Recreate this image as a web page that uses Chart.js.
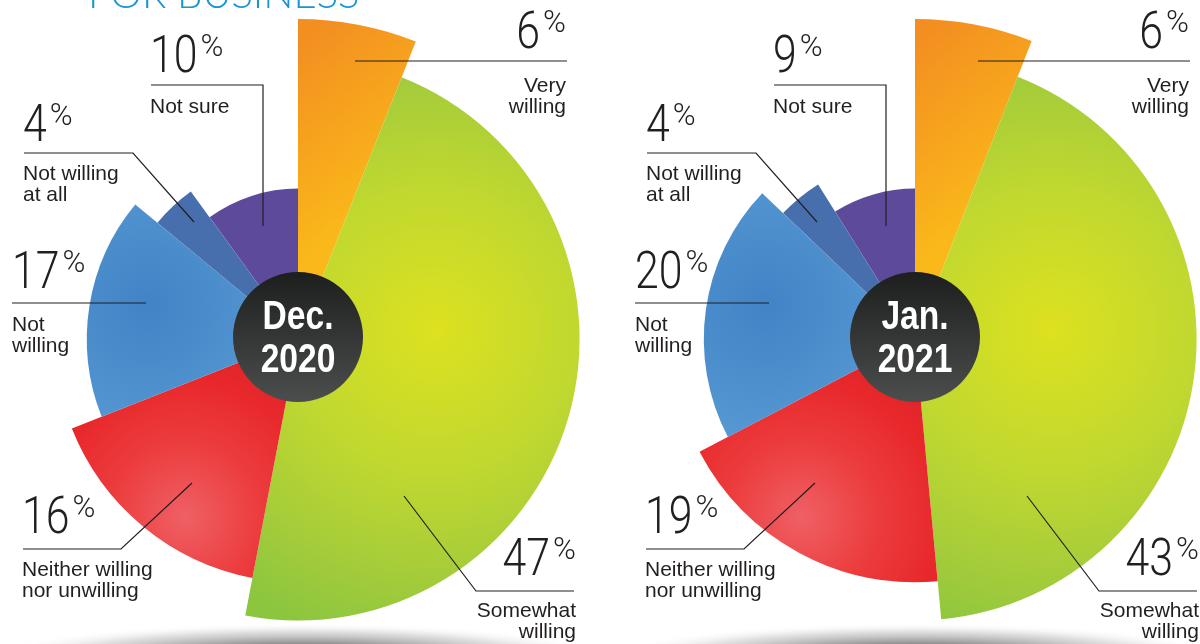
<!DOCTYPE html>
<html>
<head>
<meta charset="utf-8">
<script src="https://cdn.jsdelivr.net/npm/chart.js@4.4.1/dist/chart.umd.min.js"></script>
<style>
  html, body { margin: 0; padding: 0; background: #fff; }
  body { width: 1200px; height: 644px; position: relative; overflow: hidden; }
  canvas { position: absolute; top: 0; }
  #decChart { left: -22px; }
  #janChart { left: 595px; }
</style>
</head>
<body>
<canvas id="decChart" width="640" height="680"></canvas>
<canvas id="janChart" width="640" height="680"></canvas>
<script>
// survey answers, clockwise from 12 o'clock
const categories = ['Very willing', 'Somewhat willing', 'Neither willing nor unwilling', 'Not willing', 'Not willing at all', 'Not sure'];
const categoryLines = [['Very', 'willing'], ['Somewhat', 'willing'], ['Neither willing', 'nor unwilling'], ['Not', 'willing'], ['Not willing', 'at all'], ['Not sure']];
const periodLabels = [['Dec.', '2020'], ['Jan.', '2021']];
const dec2020Share = [6, 47, 16, 17, 4, 10];
const jan2021Share = [6, 43, 19, 20, 4, 9];
// how far each wedge reaches, as a % of the longest one
const wedgeReach = [100, 88, 76, 66, 57, 47];

const INK = '#231f20';
const NUM_FONT = '300 51px Roboto, Lato, "Liberation Sans", sans-serif';
const PCT_FONT = '300 31px Roboto, Lato, "Liberation Sans", sans-serif';
const TEXT_FONT = '21px "Liberation Sans", Arial, sans-serif';
const BADGE_FONT = 'bold 40px "Liberation Sans", Arial, sans-serif';
const NUM_SQUEEZE = 0.84;
const PCT_SQUEEZE = 1;
const BADGE_SQUEEZE = 0.84;

// callout layout, offsets from the pie centre
const calloutSpots = [
  { align: 'right', x: 268, num: -291, text: [-247, -226], line: [[57, -278], [269, -278]] },
  { align: 'right', x: 278, num: 236, text: [278, 299], line: [[106, 157], [178, 252], [276, 252]] },
  { align: 'left', x: -276, num: 194, text: [237, 258], line: [[-275, 210], [-177, 210], [-106, 144]] },
  { align: 'left', x: -286, num: -51, text: [-8, 13], line: [[-286, -36], [-152, -36]] },
  { align: 'left', x: -275, num: -198, text: [-159, -138], line: [[-274, -186], [-165, -186], [-104, -117]] },
  { align: 'left', x: -148, num: -267, text: [-226], line: [[-147, -254], [-35, -254], [-35, -113]] }
];

const wedgeTones = [
  { kind: 'linear', from: [0, -300], to: [110, -160], stops: [[0, '#f38e21'], [1, '#fab81a']] },
  { kind: 'radial', at: [137, -9], r: 320, stops: [[0, '#dde11f'], [0.45, '#c0d830'], [0.8, '#a2cb3b'], [1, '#8cc63f']] },
  { kind: 'radial', at: [-113, 178], r: 250, stops: [[0, '#ef6065'], [0.3, '#ec3c3d'], [0.55, '#e8282b'], [1, '#c71e2a']] },
  { kind: 'radial', at: [-150, -35], r: 175, stops: [[0, '#4183c5'], [1, '#5b9ed6']] },
  { kind: 'flat', color: '#476fad' },
  { kind: 'flat', color: '#5e4a9a' }
];

function wedgeFill(c) {
  const tone = wedgeTones[c.dataIndex];
  const r = c.chart.scales.r;
  if (tone.kind === 'flat' || !r || r.xCenter === undefined) return tone.color || tone.stops[0][1];
  const cx = r.xCenter, cy = r.yCenter;
  const g = tone.kind === 'linear'
    ? c.chart.ctx.createLinearGradient(cx + tone.from[0], cy + tone.from[1], cx + tone.to[0], cy + tone.to[1])
    : c.chart.ctx.createRadialGradient(cx + tone.at[0], cy + tone.at[1], 0, cx + tone.at[0], cy + tone.at[1], tone.r);
  tone.stops.forEach(s => g.addColorStop(s[0], s[1]));
  return g;
}

// fillText squeezed horizontally, left-aligned at x
function squeezed(ctx, txt, x, y, sx) {
  ctx.save();
  ctx.translate(x, y);
  ctx.scale(sx, 1);
  ctx.textAlign = 'left';
  ctx.fillText(txt, 0, 0);
  ctx.restore();
}

function drawShare(ctx, value, x, y, align) {
  const txt = String(value);
  ctx.font = NUM_FONT;
  const w1 = ctx.measureText(txt).width * NUM_SQUEEZE;
  ctx.font = PCT_FONT;
  const w2 = ctx.measureText('%').width * PCT_SQUEEZE;
  const gap = 3;
  const left = align === 'right' ? x - (w1 + gap + w2) : x;
  ctx.font = NUM_FONT;
  squeezed(ctx, txt, left, y, NUM_SQUEEZE);
  ctx.font = PCT_FONT;
  squeezed(ctx, '%', left + w1 + gap, y - 16, PCT_SQUEEZE);
}

function decorPlugin(shares, period, shift, heading) {
  return {
    id: 'decor',
    beforeDatasetsDraw(chart) {
      const ctx = chart.ctx;
      const r = chart.scales.r;
      // soft floor shadow under the pie
      ctx.save();
      ctx.translate(r.xCenter + 2, r.yCenter + 318);
      ctx.scale(1, 0.11);
      const g = ctx.createRadialGradient(0, 0, 0, 0, 0, 310);
      g.addColorStop(0, 'rgba(55,55,55,0.85)');
      g.addColorStop(0.4, 'rgba(75,75,75,0.6)');
      g.addColorStop(0.75, 'rgba(120,120,120,0.22)');
      g.addColorStop(1, 'rgba(255,255,255,0)');
      ctx.fillStyle = g;
      ctx.beginPath();
      ctx.arc(0, 0, 310, 0, Math.PI * 2);
      ctx.fill();
      ctx.restore();
    },
    afterDatasetsDraw(chart) {
      const ctx = chart.ctx;
      const r = chart.scales.r;
      const cx = r.xCenter, cy = r.yCenter;
      ctx.save();
      ctx.textBaseline = 'alphabetic';

      // dark badge in the middle
      const bg = ctx.createLinearGradient(0, cy - 67, 0, cy + 63);
      bg.addColorStop(0, '#1d1e1e');
      bg.addColorStop(1, '#4c4d4d');
      ctx.fillStyle = bg;
      ctx.beginPath();
      ctx.arc(cx, cy - 2, 65, 0, Math.PI * 2);
      ctx.fill();
      ctx.fillStyle = '#ffffff';
      ctx.font = BADGE_FONT;
      period.forEach((ln, k) => {
        const w = ctx.measureText(ln).width * BADGE_SQUEEZE;
        squeezed(ctx, ln, cx - w / 2, cy + (k === 0 ? -10 : 33), BADGE_SQUEEZE);
      });

      // callouts
      ctx.strokeStyle = INK;
      ctx.lineWidth = 1.2;
      ctx.fillStyle = INK;
      calloutSpots.forEach((spot, i) => {
        const ox = cx + shift, oy = cy;
        ctx.beginPath();
        spot.line.forEach((p, k) => {
          const px = ox + p[0], py = oy + p[1];
          if (k === 0) ctx.moveTo(px, py); else ctx.lineTo(px, py);
        });
        ctx.stroke();
        drawShare(ctx, shares[i], ox + spot.x, oy + spot.num, spot.align);
        ctx.font = TEXT_FONT;
        ctx.textAlign = spot.align;
        categoryLines[i].forEach((ln, k) => ctx.fillText(ln, ox + spot.x, oy + spot.text[k]));
      });

      if (heading) {
        ctx.fillStyle = '#1a95d3';
        ctx.font = '300 40px Lato, "Liberation Sans", sans-serif';
        ctx.textAlign = 'left';
        ctx.fillText(heading, 110, 8);
      }
      ctx.restore();
    }
  };
}

function buildChart(canvasId, shares, period, shift, heading) {
  const total = shares.reduce((a, b) => a + b, 0);
  return new Chart(document.getElementById(canvasId), {
    type: 'polarArea',
    data: {
      labels: categories,
      datasets: [{
        data: wedgeReach,
        angle: c => shares[c.dataIndex] / total * 360,
        backgroundColor: wedgeFill,
        borderWidth: 0,
        clip: false
      }]
    },
    options: {
      responsive: false,
      animation: false,
      layout: { padding: { top: 19, bottom: 21, left: 0, right: 0 } },
      plugins: { legend: { display: false }, tooltip: { enabled: false } },
      scales: {
        r: {
          min: 0, max: 100,
          ticks: { display: false },
          grid: { display: false },
          angleLines: { display: false },
          pointLabels: { display: false }
        }
      }
    },
    plugins: [decorPlugin(shares, period, shift, heading)]
  });
}

buildChart('decChart', dec2020Share, periodLabels[0], 0, 'FOR BUSINESS');
buildChart('janChart', jan2021Share, periodLabels[1], 6, null);
</script>
</body>
</html>
